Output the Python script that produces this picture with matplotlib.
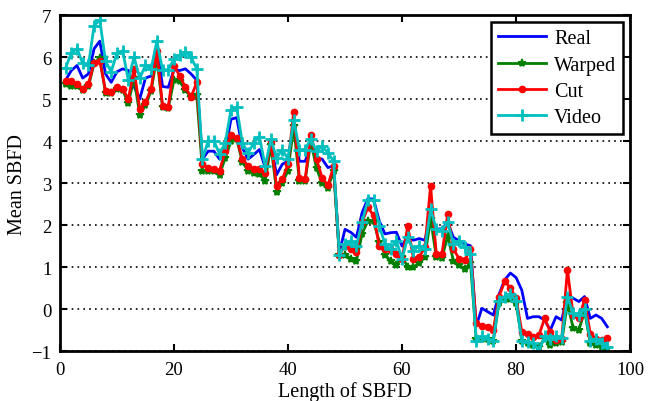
import numpy as np
import matplotlib.pyplot as plt

plt.rcParams['font.family'] = ['Liberation Serif', 'DejaVu Serif']
plt.rcParams['mathtext.fontset'] = 'stix'

# Mean SBFD per length, four groups of 24 lengths
length = np.arange(1, 97)

real = [
    5.45, 5.68, 5.80, 5.50, 5.60, 6.20, 6.38, 5.60, 5.40, 5.65, 5.72, 5.68,
    5.30, 5.00, 5.50, 5.55, 6.30, 5.30, 5.28, 5.70, 5.68, 5.72, 5.60, 5.45,
    3.57, 3.76, 3.76, 3.57, 3.76, 4.52, 4.56, 3.84, 3.57, 3.68, 3.80, 3.37,
    3.92, 3.20, 3.45, 3.52, 4.40, 3.52, 3.52, 3.88, 3.60, 3.57, 3.37, 3.41,
    1.35, 1.90, 1.83, 1.71, 2.30, 2.63, 2.62, 2.10, 1.79, 1.82, 1.83, 1.50,
    1.75, 1.64, 1.68, 1.64, 2.20, 1.91, 1.91, 2.07, 1.71, 1.63, 1.55, 1.51,
    -0.40, 0.02, -0.06, -0.14, 0.35, 0.70, 0.86, 0.75, 0.45, -0.22, -0.18, -0.18,
    -0.26, -0.50, -0.18, -0.26, 0.34, 0.26, 0.18, 0.30, -0.22, -0.14, -0.22, -0.42,
]
warped = [
    5.35, 5.32, 5.30, 5.22, 5.30, 5.85, 5.98, 5.15, 5.15, 5.25, 5.22, 4.90,
    5.50, 4.63, 4.85, 5.20, 6.00, 4.80, 4.78, 5.45, 5.42, 5.22, 5.05, 5.10,
    3.30, 3.30, 3.28, 3.20, 3.60, 4.00, 4.05, 3.50, 3.30, 3.25, 3.22, 3.05,
    3.90, 2.80, 3.00, 3.30, 4.35, 3.05, 3.05, 4.00, 3.35, 3.00, 2.88, 3.30,
    1.28, 1.30, 1.20, 1.15, 1.80, 2.10, 2.10, 1.60, 1.30, 1.15, 1.05, 1.25,
    1.00, 1.00, 1.10, 1.25, 2.15, 1.25, 1.22, 1.75, 1.15, 1.05, 0.95, 1.10,
    -0.70, -0.70, -0.72, -0.75, 0.15, 0.25, 0.25, 0.15, -0.75, -0.80, -0.85, -0.90,
    -0.70, -0.85, -0.80, -0.78, 0.15, -0.45, -0.50, -0.05, -0.80, -0.85, -0.90, -0.92,
]
cut = [
    5.44, 5.44, 5.36, 5.25, 5.36, 5.87, 5.91, 5.20, 5.17, 5.28, 5.25, 5.00,
    5.71, 4.76, 4.92, 5.25, 6.15, 4.84, 4.82, 5.79, 5.56, 5.28, 5.05, 5.40,
    3.45, 3.37, 3.33, 3.30, 3.76, 4.15, 4.07, 3.57, 3.41, 3.33, 3.33, 3.25,
    4.00, 2.93, 3.09, 3.45, 4.70, 3.12, 3.09, 4.15, 3.57, 3.12, 2.95, 3.40,
    1.30, 1.51, 1.43, 1.36, 2.07, 2.42, 2.23, 1.51, 1.43, 1.40, 1.32, 1.20,
    1.98, 1.20, 1.24, 1.47, 2.94, 1.32, 1.32, 2.26, 1.43, 1.20, 1.16, 1.43,
    -0.34, -0.40, -0.42, -0.50, 0.30, 0.66, 0.50, 0.26, -0.54, -0.58, -0.66, -0.62,
    -0.22, -0.54, -0.74, -0.70, 0.94, -0.14, -0.22, 0.22, -0.58, -0.70, -0.74, -0.69,
]
video = [
    5.74, 6.10, 6.20, 5.85, 5.80, 6.75, 6.88, 5.90, 5.65, 6.10, 6.15, 5.45,
    6.00, 5.50, 5.80, 5.72, 6.38, 5.70, 5.70, 5.95, 6.05, 6.12, 6.00, 5.72,
    3.57, 4.00, 4.00, 3.70, 3.96, 4.75, 4.80, 3.96, 3.72, 3.96, 4.10, 3.40,
    4.04, 3.60, 3.80, 3.57, 4.50, 3.80, 3.80, 4.05, 3.76, 3.88, 3.72, 3.52,
    1.28, 1.55, 1.63, 1.51, 2.07, 2.60, 2.60, 1.99, 1.55, 1.43, 1.63, 1.20,
    1.71, 1.39, 1.51, 1.43, 2.38, 1.91, 1.87, 2.07, 1.55, 1.63, 1.47, 1.32,
    -0.75, -0.65, -0.70, -0.75, 0.20, 0.30, 0.35, 0.20, -0.75, -0.78, -0.80, -1.00,
    -0.65, -0.70, -0.65, -0.68, 0.30, -0.10, -0.15, 0.00, -0.75, -0.70, -0.80, -0.90,
]

fig = plt.figure(figsize=(6.51, 4.02), dpi=100)
ax = fig.add_axes([0.092, 0.124, 0.876, 0.836])

ax.plot(length, real, '-', color='#0000ff', lw=2, label='Real')
ax.plot(length, warped, '-', color='#008000', lw=2, marker='*', ms=6, mew=1.2, label='Warped')
ax.plot(length, cut, '-', color='#ff0000', lw=2, marker='.', ms=9, label='Cut')
ax.plot(length, video, '-', color='#00bfbf', lw=2, marker='+', ms=8, mew=2, label='Video')

ax.set_xlim(0, 100)
ax.set_ylim(-1, 7)
ax.set_xticks(range(0, 101, 20))
ax.set_yticks(range(-1, 8))
ax.yaxis.grid(True, linestyle=(0, (1, 2.5)), color='black', lw=1.2)
ax.set_axisbelow(True)

ax.tick_params(direction='in', top=True, right=True, length=5, width=1.5, labelsize=13.5)
ax.tick_params(axis='x', pad=7)
ax.tick_params(axis='y', pad=6)
for s in ax.spines.values():
    s.set_linewidth(2)

ax.set_xlabel('Length of SBFD', fontsize=14.5, labelpad=2)
ax.set_ylabel('Mean SBFD', fontsize=14.5, labelpad=3)

leg = ax.legend(loc='upper right', fontsize=14.5, fancybox=False, framealpha=1,
                edgecolor='black', borderaxespad=0.35, handlelength=2.4,
                labelspacing=0.36, borderpad=0.35, handletextpad=0.4)
leg.get_frame().set_linewidth(1.8)

fig.savefig('out.png', dpi=100)
